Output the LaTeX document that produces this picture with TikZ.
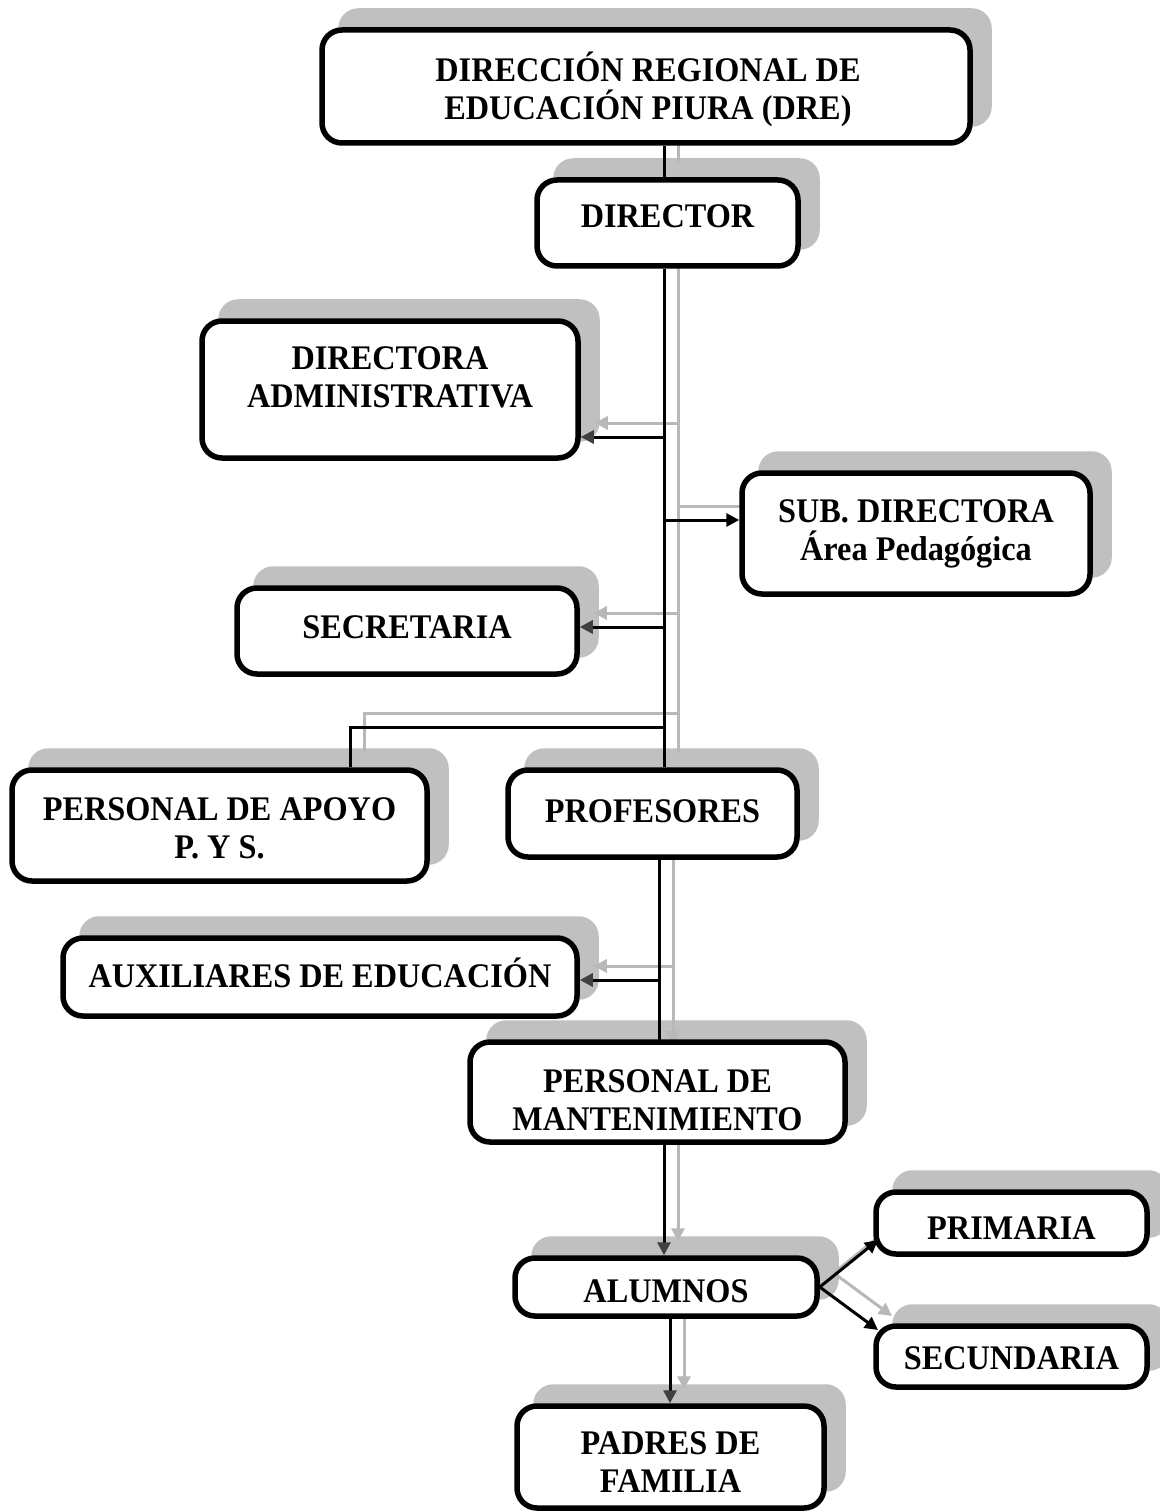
\documentclass[tikz,border=0pt]{standalone}
\usepackage{fontspec}
\setmainfont{Liberation Serif}[FakeStretch=0.936]
\usetikzlibrary{arrows.meta,calc}
\pgfdeclarelayer{bg}
\pgfdeclarelayer{mid}
\pgfsetlayers{bg,mid,main}
\definecolor{shd}{HTML}{C0C0C0}
\definecolor{shl}{HTML}{B8B8B8}
\definecolor{tipg}{HTML}{404040}
\tikzset{
  box/.style={draw=black, line width=5.5pt, fill=white, rounded corners=20pt, inner sep=0pt},
  txt/.style={align=center, font=\fontsize{34.5}{38}\selectfont\bfseries, inner sep=0pt},
  conn/.style={line width=3pt},
  arr/.style={conn, -{Triangle[length=13pt,width=13pt]}},
  darr/.style={conn, -{Triangle[length=13pt,width=13pt,color=tipg]}},
  boxshadow/.style={fill=shd, rounded corners=20pt},
}
\newcommand{\orgconns}{%
  \draw[conn] (dre.south -| tx) -- (dir.north -| tx);
  \draw[conn] (dir.south -| tx) -- (prof.north -| tx);
  \draw[darr] (j1) -- (j1 -| adm.east);
  \draw[arr] (j2) -- (j2 -| sub.west);
  \draw[darr] (j3) -- (j3 -| sec.east);
  \draw[conn] (j4) -- (k4) -- (k4 |- apo.north);
  \draw[arr] (prof.south -| tb) -- (m1);
  \draw[darr] (j5) -- (j5 -| aux.east);
  \draw[darr] (mant.south -| tx) -- (alu.north -| tx);
  \draw[arr] (alu.east) -- (pt1);
  \draw[arr] (alu.east) -- (pt2);
  \draw[darr] (alu.south -| tc) -- (pad.north -| tc);
}
\newcommand{\boxshadow}[1]{%
  \fill[boxshadow] ([shift={(19pt,19pt)}]#1.south west) rectangle ([shift={(19pt,19pt)}]#1.north east);}
\begin{document}
\begin{tikzpicture}[x=1pt,y=-1pt]
\useasboundingbox (0,0) rectangle (1159,1511);
% boxes
\node[box, minimum width=648pt, minimum height=113pt] (dre) at (646,86.5) {};
\node[box, minimum width=261pt, minimum height=86pt] (dir) at (667.5,223) {};
\node[box, minimum width=376pt, minimum height=137pt] (adm) at (390,389.5) {};
\node[box, minimum width=348pt, minimum height=121pt] (sub) at (916,533.5) {};
\node[box, minimum width=340pt, minimum height=86pt] (sec) at (407,631) {};
\node[box, minimum width=415pt, minimum height=111pt] (apo) at (219.5,825.5) {};
\node[box, minimum width=289pt, minimum height=87pt] (prof) at (652.5,813.5) {};
\node[box, minimum width=514pt, minimum height=78pt] (aux) at (320,977) {};
\node[box, minimum width=375pt, minimum height=100pt] (mant) at (657.5,1092) {};
\node[box, minimum width=271pt, minimum height=62pt] (pri) at (1011.5,1223) {};
\node[box, minimum width=302pt, minimum height=58pt] (alu) at (666,1287) {};
\node[box, minimum width=271pt, minimum height=61pt] (secu) at (1011.5,1356.5) {};
\node[box, minimum width=307pt, minimum height=102pt] (pad) at (670.5,1457) {};
% texts
\node[txt] (dre-t) at (648,89) {DIRECCIÓN REGIONAL DE\\EDUCACIÓN PIURA (DRE)};
\node[txt] (dir-t) at (667.5,216) {DIRECTOR};
\node[txt] (adm-t) at (390,377.5) {DIRECTORA\\ADMINISTRATIVA};
\node[txt] (sub-t) at (916,534) {SUB. DIRECTORA\\Área Pedagógica};
\node[txt] (sec-t) at (407,627) {SECRETARIA};
\node[txt] (apo-t) at (219.5,828.5) {PERSONAL DE APOYO\\P. Y S.};
\node[txt] (prof-t) at (652.5,811) {PROFESORES};
\node[txt] (aux-t) at (320,973) {AUXILIARES DE EDUCACIÓN};
\node[txt] (mant-t) at (657.5,1100) {PERSONAL DE\\MANTENIMIENTO};
\node[txt] (pri-t) at (1011.5,1228) {PRIMARIA};
\node[txt] (alu-t) at (666,1291) {ALUMNOS};
\node[txt] (secu-t) at (1011.5,1358) {SECUNDARIA};
\node[txt] (pad-t) at (670.5,1462.5) {PADRES DE\\FAMILIA};
% connector points
\coordinate (tx) at (664,0);
\coordinate (tb) at (659,0);
\coordinate (tc) at (670,0);
\coordinate (j1) at (664,437);
\coordinate (j2) at (664,520);
\coordinate (j3) at (664,627);
\coordinate (j4) at (664,727);
\coordinate (k4) at (350,727);
\coordinate (j5) at (659,980);
\coordinate (m1) at (659,1058);
\coordinate (pt1) at (878,1240);
\coordinate (pt2) at (878,1330);
% shadows
\begin{pgfonlayer}{bg}
  \fill[white] (0,0) rectangle (1159,1511);
  \foreach \n in {dre,dir,adm,sub,sec,apo,prof,aux,mant,pri,alu,secu,pad} {\boxshadow{\n}}
  \begin{scope}[transform canvas={xshift=14pt,yshift=14pt}, color=shl, darr/.style={arr}]
    \orgconns
  \end{scope}
\end{pgfonlayer}
\begin{pgfonlayer}{mid}
  \orgconns
\end{pgfonlayer}
\end{tikzpicture}
\end{document}
